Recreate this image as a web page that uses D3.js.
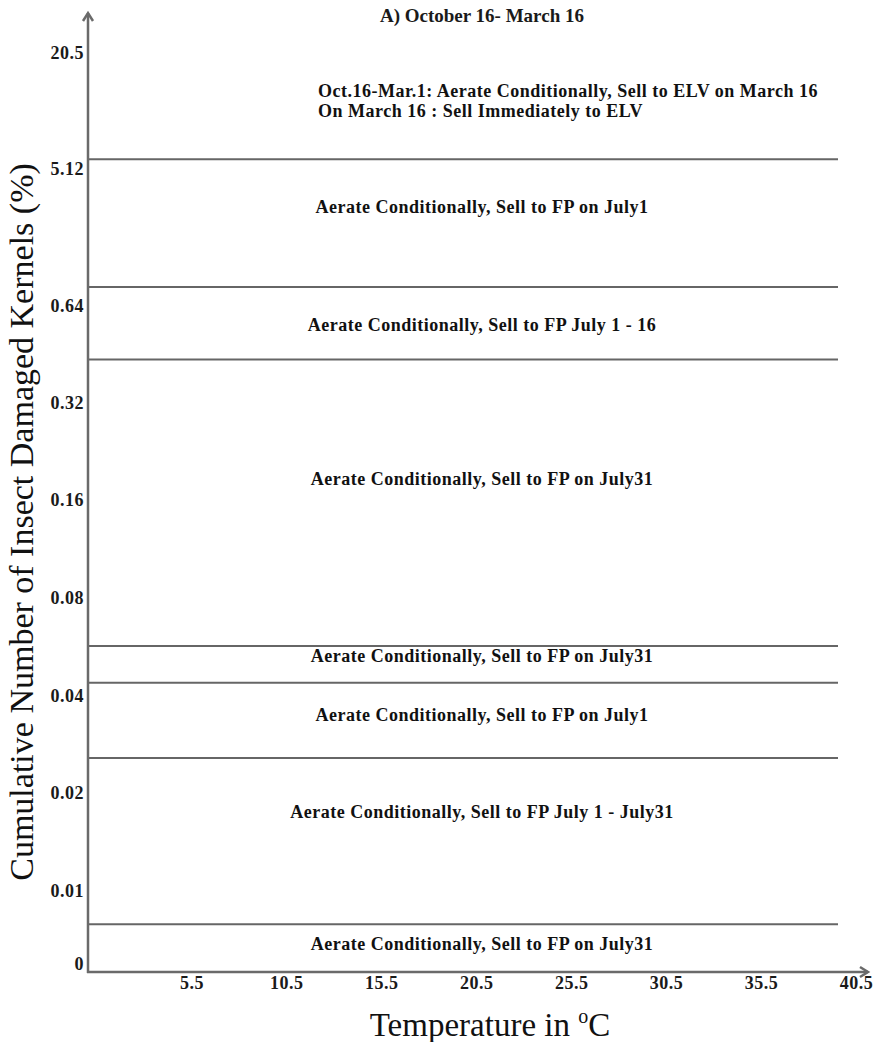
<!DOCTYPE html>
<html>
<head>
<meta charset="utf-8">
<script src="https://cdn.jsdelivr.net/npm/d3@7/dist/d3.min.js"></script>
<style>
  html, body { margin: 0; padding: 0; background: #fff; }
  svg { display: block; }
  .tick text { font-family: "Liberation Serif", "Times New Roman", serif; font-weight: bold; fill: #1a1a1a; }
</style>
</head>
<body>
<svg id="chart" width="874" height="1042"></svg>
<script>
// Decision regions for stored grain: damaged-kernel level vs. temperature
const chartTitle = "A) October 16- March 16";

// Temperature axis (°C)
const tempTicks = [5.5, 10.5, 15.5, 20.5, 25.5, 30.5, 35.5, 40.5];
const tempLabels = ["5.5", "10.5", "15.5", "20.5", "25.5", "30.5", "35.5", "40.5"];

// Cumulative insect damaged kernels (%) axis
const idkTicks = [0, 0.01, 0.02, 0.04, 0.08, 0.16, 0.32, 0.64, 5.12, 20.5];
const idkLabels = ["0", "0.01", "0.02", "0.04", "0.08", "0.16", "0.32", "0.64", "5.12", "20.5"];

// Damage levels where the recommended policy changes
const boundaryLevels = [6.27, 1.23, 0.46, 0.06, 0.045, 0.027, 0.0053];

// Policy in each region, top to bottom, with the damage level it is written at
const policyText = [
  ["Oct.16-Mar.1: Aerate Conditionally, Sell to ELV on March 16", "On March 16 : Sell Immediately to ELV"],
  ["Aerate Conditionally, Sell to FP on July1"],
  ["Aerate Conditionally, Sell to FP July 1 - 16"],
  ["Aerate Conditionally, Sell to FP on July31"],
  ["Aerate Conditionally, Sell to FP on July31"],
  ["Aerate Conditionally, Sell to FP on July1"],
  ["Aerate Conditionally, Sell to FP July 1 - July31"],
  ["Aerate Conditionally, Sell to FP on July31"]
];
const policyLevels = [14.1, 3.84, 0.574, 0.193, 0.056, 0.036, 0.018, 0.0027];
const policyTemp = 20.8;

const svg = d3.select("#chart");
const axisColor = "#6a6a6a";
const serif = "'Liberation Serif', 'Times New Roman', serif";

// x: linear temperature scale starting at the origin
const x = d3.scaleLinear().domain([0, 40.5]).range([87, 856]);
// y: piecewise scale, each labelled damage level placed at its own row
const y = d3.scaleLinear()
  .domain(idkTicks)
  .range([963, 890, 792, 695, 597, 499, 402, 305, 168, 52]);

const originX = 88, originY = 972;

// policy boundary lines
svg.append("g")
  .selectAll("line")
  .data(boundaryLevels)
  .join("line")
  .attr("x1", originX)
  .attr("x2", 838)
  .attr("y1", d => y(d))
  .attr("y2", d => y(d))
  .attr("stroke", "#666")
  .attr("stroke-width", 2);

// axes with arrow heads
const axes = svg.append("g").attr("stroke", axisColor).attr("stroke-width", 2.5).attr("fill", "none");
axes.append("line").attr("x1", originX).attr("y1", originY + 1).attr("x2", originX).attr("y2", 13);
axes.append("path").attr("d", `M${originX - 5},${21} L${originX},${13} L${originX + 5},${21}`);
axes.append("line").attr("x1", originX - 1).attr("y1", originY).attr("x2", 868).attr("y2", originY);
axes.append("path").attr("d", `M${860},${originY - 5} L${868},${originY} L${860},${originY + 5}`);

// tick labels only (no tick marks, no domain path)
const yAxis = svg.append("g")
  .attr("transform", `translate(${originX - 4},0)`)
  .call(d3.axisLeft(y).tickValues(idkTicks).tickFormat((d, i) => idkLabels[i]).tickSize(0).tickPadding(0));
yAxis.select(".domain").remove();
yAxis.selectAll("text").attr("font-size", 18).attr("letter-spacing", 0.5).attr("dy", "0.35em");

const xAxis = svg.append("g")
  .attr("transform", `translate(0,${originY})`)
  .call(d3.axisBottom(x).tickValues(tempTicks).tickFormat((d, i) => tempLabels[i]).tickSize(0).tickPadding(4));
xAxis.select(".domain").remove();
xAxis.selectAll("text").attr("font-size", 18).attr("letter-spacing", 0.5).attr("dy", "0.71em");

// chart title
svg.append("text")
  .attr("x", x(policyTemp))
  .attr("y", 22)
  .attr("text-anchor", "middle")
  .attr("font-family", serif)
  .attr("font-weight", "bold")
  .attr("font-size", 19)
  .attr("fill", "#1a1a1a")
  .text(chartTitle);

// policy labels
const labels = svg.append("g")
  .attr("font-family", serif)
  .attr("font-weight", "bold")
  .attr("font-size", 18)
  .attr("letter-spacing", 0.5)
  .attr("fill", "#111");
policyText.forEach((lines, i) => {
  const cy = y(policyLevels[i]);
  const lineGap = 20;
  const multi = lines.length > 1;
  const t = labels.append("text")
    .attr("y", cy - (lines.length - 1) * lineGap / 2)
    .attr("text-anchor", multi ? "start" : "middle");
  lines.forEach((s, j) => {
    t.append("tspan")
      .attr("x", multi ? 318 : x(policyTemp))
      .attr("dy", j === 0 ? "0.35em" : lineGap)
      .text(s);
  });
});

// axis titles
svg.append("text")
  .attr("transform", `translate(33,522) rotate(-90)`)
  .attr("text-anchor", "middle")
  .attr("font-family", serif)
  .attr("font-size", 34)
  .attr("fill", "#111")
  .text("Cumulative Number of Insect Damaged Kernels (%)");

const xt = svg.append("text")
  .attr("x", 490)
  .attr("y", 1036)
  .attr("text-anchor", "middle")
  .attr("font-family", serif)
  .attr("font-size", 33)
  .attr("fill", "#111");
xt.append("tspan").text("Temperature in ");
xt.append("tspan").attr("font-size", 20).attr("dy", -13).text("o");
xt.append("tspan").attr("dy", 13).text("C");
</script>
</body>
</html>
